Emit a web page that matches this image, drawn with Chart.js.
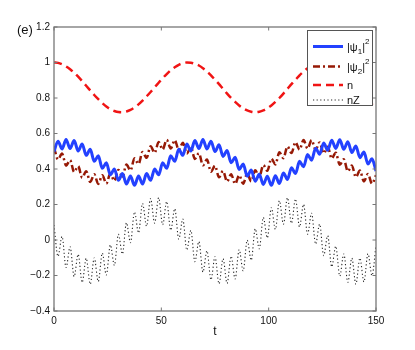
<!DOCTYPE html>
<html>
<head>
<meta charset="utf-8">
<script src="https://cdn.jsdelivr.net/npm/chart.js@4.4.1/dist/chart.umd.min.js"></script>
<style>
  html, body { margin: 0; padding: 0; background: #ffffff; }
  #wrap { position: relative; width: 415px; height: 350px; }
</style>
</head>
<body>
<div id="wrap"><canvas id="c" width="415" height="350"></canvas></div>
<script>
const tValues = [0,1.875,3.75,5.625,7.5,9.375,11.25,13.125,15,16.875,18.75,20.625,22.5,24.375,26.25,28.125,30,31.875,33.75,35.625,37.5,39.375,41.25,43.125,45,46.875,48.75,50.625,52.5,54.375,56.25,58.125,60,61.875,63.75,65.625,67.5,69.375,71.25,73.125,75,76.875,78.75,80.625,82.5,84.375,86.25,88.125,90,91.875,93.75,95.625,97.5,99.375,101.25,103.125,105,106.875,108.75,110.625,112.5,114.375,116.25,118.125,120,121.875,123.75,125.625,127.5,129.375,131.25,133.125,135,136.875,138.75,140.625,142.5,144.375,146.25,148.125,150];

const psi1 = [0.498,0.557,0.513,0.566,0.515,0.560,0.502,0.541,0.477,0.511,0.443,0.474,0.404,0.435,0.367,0.400,0.336,0.374,0.315,0.360,0.308,0.360,0.315,0.374,0.336,0.400,0.367,0.435,0.404,0.474,0.443,0.511,0.477,0.541,0.502,0.560,0.515,0.566,0.513,0.557,0.498,0.536,0.471,0.504,0.435,0.466,0.397,0.428,0.360,0.394,0.331,0.370,0.313,0.359,0.308,0.362,0.318,0.378,0.341,0.407,0.374,0.443,0.412,0.481,0.450,0.517,0.483,0.546,0.506,0.562,0.516,0.565,0.511,0.554,0.493,0.530,0.464,0.496,0.428,0.458,0.389];

const psi2 = [0.521,0.454,0.487,0.419,0.450,0.383,0.416,0.351,0.388,0.327,0.370,0.316,0.365,0.318,0.374,0.333,0.394,0.358,0.425,0.392,0.460,0.428,0.496,0.463,0.528,0.491,0.552,0.510,0.564,0.515,0.563,0.507,0.548,0.487,0.523,0.457,0.489,0.421,0.453,0.385,0.418,0.353,0.389,0.329,0.371,0.316,0.365,0.317,0.373,0.331,0.393,0.356,0.422,0.390,0.458,0.426,0.494,0.461,0.527,0.490,0.551,0.509,0.564,0.515,0.563,0.508,0.550,0.488,0.525,0.459,0.492,0.424,0.455,0.387,0.420,0.354,0.391,0.330,0.372,0.317,0.365];

const nTotal = [1.000,0.998,0.990,0.978,0.962,0.942,0.920,0.895,0.869,0.843,0.817,0.793,0.771,0.752,0.737,0.727,0.721,0.720,0.724,0.733,0.747,0.764,0.785,0.809,0.834,0.860,0.886,0.912,0.935,0.956,0.973,0.987,0.996,1.000,0.999,0.993,0.983,0.968,0.949,0.928,0.903,0.878,0.851,0.825,0.800,0.778,0.758,0.742,0.730,0.723,0.720,0.723,0.730,0.742,0.758,0.778,0.800,0.825,0.851,0.878,0.903,0.928,0.949,0.968,0.983,0.993,0.999,1.000,0.996,0.987,0.973,0.956,0.935,0.912,0.886,0.860,0.834,0.809,0.785,0.764,0.747];

const nZ = [0.084,-0.092,0.020,-0.155,-0.038,-0.206,-0.081,-0.239,-0.103,-0.249,-0.101,-0.234,-0.074,-0.197,-0.028,-0.143,0.032,-0.079,0.097,-0.015,0.158,0.040,0.206,0.078,0.234,0.095,0.238,0.086,0.217,0.055,0.176,0.005,0.118,-0.057,0.054,-0.122,-0.009,-0.181,-0.061,-0.224,-0.094,-0.247,-0.105,-0.245,-0.091,-0.219,-0.055,-0.174,-0.001,-0.114,0.063,-0.049,0.127,0.012,0.182,0.060,0.221,0.089,0.238,0.094,0.231,0.074,0.200,0.033,0.151,-0.023,0.089,-0.088,0.024,-0.151,-0.035,-0.203,-0.079,-0.238,-0.102,-0.249,-0.102,-0.236,-0.077,-0.200,-0.031];

const xTickValues = [0, 50, 100, 150];
const yTickValues = [-0.4, -0.2, 0, 0.2, 0.4, 0.6, 0.8, 1, 1.2];
const panelLabel = '(e)';
const xTitle = 't';

// ---- build datasets ----
const pts = arr => tValues.map((t, i) => ({ x: t, y: arr[i] }));
const FONT = '"Liberation Sans", Arial, Helvetica, sans-serif';

const datasets = [
  { key: 'psi1', data: pts(psi1), borderColor: 'rgb(35,65,255)', borderWidth: 3, borderDash: [] },
  { key: 'psi2', data: pts(psi2), borderColor: 'rgb(150,25,5)', borderWidth: 2.5, borderDash: [7, 3, 2, 3] },
  { key: 'n',    data: pts(nTotal), borderColor: 'rgb(240,20,20)', borderWidth: 2.5, borderDash: [8, 5] },
  { key: 'nZ',   data: pts(nZ), borderColor: 'rgba(0,0,0,0.85)', borderWidth: 1.1, borderDash: [1.2, 2.4] }
].map(d => Object.assign(d, { pointRadius: 0, fill: false, cubicInterpolationMode: 'monotone' }));

const fmt = v => {
  const r = Math.round(v * 10) / 10;
  return (r < 0 ? '\u2212' : '') + String(Math.abs(r));
};

// frame + inward ticks on all four sides
const framePlugin = {
  id: 'frame',
  afterDatasetsDraw(chart) {
    const { ctx, chartArea: a, scales: { x, y } } = chart;
    ctx.save();
    ctx.strokeStyle = '#777';
    ctx.lineWidth = 1.3;
    ctx.setLineDash([]);
    ctx.strokeRect(a.left, a.top, a.right - a.left, a.bottom - a.top);
    const L = 3.5;
    ctx.lineWidth = 1;
    ctx.beginPath();
    x.ticks.forEach(t => {
      const px = x.getPixelForValue(t.value);
      ctx.moveTo(px, a.bottom); ctx.lineTo(px, a.bottom - L);
      ctx.moveTo(px, a.top); ctx.lineTo(px, a.top + L);
    });
    y.ticks.forEach(t => {
      const py = y.getPixelForValue(t.value);
      ctx.moveTo(a.left, py); ctx.lineTo(a.left + L, py);
      ctx.moveTo(a.right, py); ctx.lineTo(a.right - L, py);
    });
    ctx.stroke();
    ctx.restore();
  },
  afterDraw(chart) {
    const { ctx, chartArea: a } = chart;
    ctx.save();
    // panel label
    ctx.fillStyle = '#111';
    ctx.font = '13px ' + FONT;
    ctx.textBaseline = 'middle';
    ctx.textAlign = 'left';
    ctx.fillText(panelLabel, 17, 30);

    // legend box
    const bx = a.right - 69, by = a.top + 3, bw = 65, bh = 75;
    ctx.fillStyle = '#fff';
    ctx.fillRect(bx, by, bw, bh);
    ctx.strokeStyle = '#555';
    ctx.lineWidth = 1;
    ctx.strokeRect(bx + 0.5, by + 0.5, bw, bh);
    const rows = [16.5, 36.5, 55, 70];
    const ds = chart.data.datasets;
    ds.forEach((d, i) => {
      const yy = by + rows[i];
      ctx.strokeStyle = d.borderColor;
      ctx.lineWidth = d.borderWidth;
      ctx.setLineDash(d.borderDash || []);
      ctx.beginPath();
      ctx.moveTo(bx + 6, yy);
      ctx.lineTo(bx + 36, yy);
      ctx.stroke();
    });
    ctx.setLineDash([]);
    ctx.fillStyle = '#111';
    ctx.textBaseline = 'alphabetic';
    const tx = bx + 40;
    const drawPsi = (yy, idx) => {
      let x0 = tx;
      ctx.font = '11px ' + FONT;
      ctx.fillText('|\u03c8', x0, yy + 4);
      x0 += ctx.measureText('|\u03c8').width;
      ctx.font = '8px ' + FONT;
      ctx.fillText(idx, x0, yy + 7);
      x0 += ctx.measureText(idx).width;
      ctx.font = '11px ' + FONT;
      ctx.fillText('|', x0, yy + 4);
      x0 += ctx.measureText('|').width;
      ctx.font = '8px ' + FONT;
      ctx.fillText('2', x0, yy - 3);
    };
    drawPsi(by + rows[0], '1');
    drawPsi(by + rows[1], '2');
    ctx.font = '11px ' + FONT;
    ctx.fillText('n', tx, by + rows[2] + 4);
    ctx.fillText('nZ', tx, by + rows[3] + 4);
    ctx.restore();
  }
};

new Chart(document.getElementById('c'), {
  type: 'line',
  data: { datasets },
  options: {
    responsive: false,
    animation: false,
    events: [],
    layout: { padding: { top: 27, right: 39, bottom: 0, left: 0 } },
    plugins: { legend: { display: false }, tooltip: { enabled: false } },
    scales: {
      x: {
        type: 'linear', min: 0, max: 150,
        afterBuildTicks: s => { s.ticks = xTickValues.map(v => ({ value: v })); },
        afterFit: s => { s.height = 39; },
        grid: { display: false, drawTicks: false },
        border: { display: false },
        ticks: { padding: 4, color: '#111', font: { family: FONT, size: 10 }, maxRotation: 0, callback: v => fmt(v) },
        title: { display: true, text: xTitle, color: '#111', font: { family: FONT, size: 12 }, padding: { top: 0, bottom: 11 } }
      },
      y: {
        type: 'linear', min: -0.4, max: 1.2,
        afterBuildTicks: s => { s.ticks = yTickValues.map(v => ({ value: v })); },
        afterFit: s => { s.width = 54; },
        grid: { display: false, drawTicks: false },
        border: { display: false },
        ticks: { padding: 4, color: '#111', font: { family: FONT, size: 10 }, callback: v => fmt(v) }
      }
    }
  },
  plugins: [framePlugin]
});
</script>
</body>
</html>
